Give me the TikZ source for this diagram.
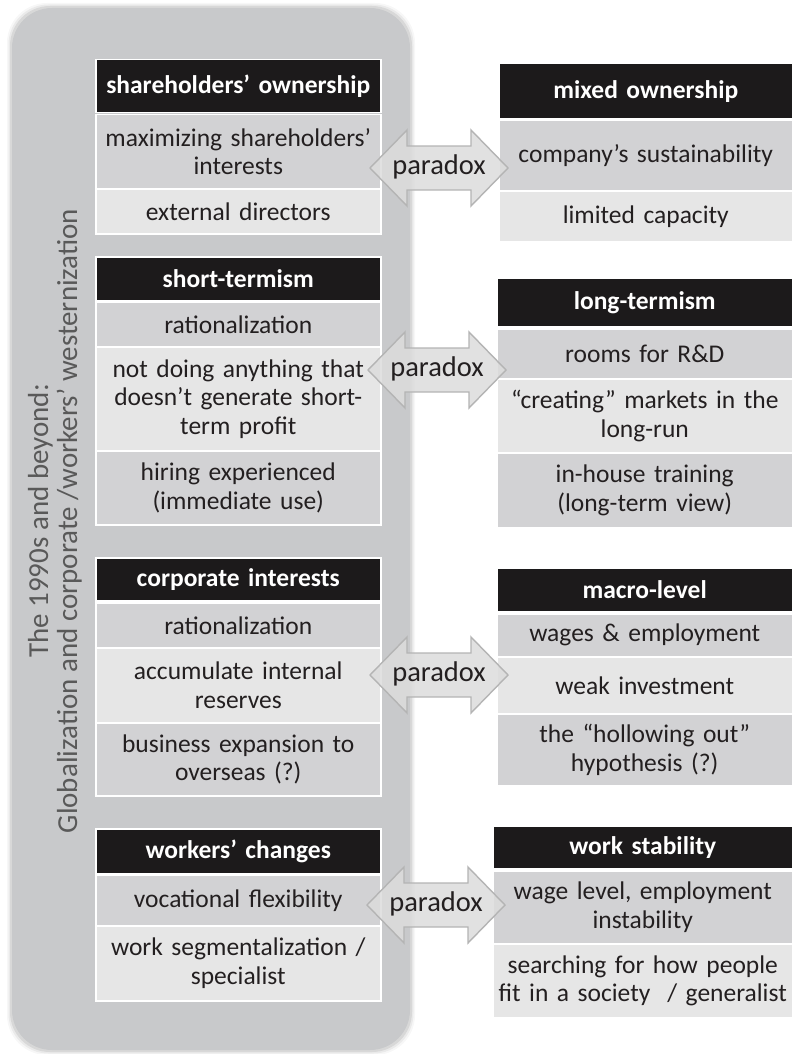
\documentclass[tikz,border=0pt]{standalone}
\usepackage{fontspec}
\setmainfont{Carlito}
\definecolor{panelc}{HTML}{C8C9CB}
\definecolor{darkrow}{HTML}{D2D2D4}
\definecolor{lightrow}{HTML}{E6E6E6}
\definecolor{hdrc}{HTML}{1C1A1B}
\definecolor{txtc}{HTML}{231F20}
\definecolor{arrfill}{HTML}{DCDCDC}
\definecolor{arrdraw}{HTML}{B4B4B4}
\definecolor{vtxt}{HTML}{595959}
\tikzset{
  cell/.style={anchor=north west, inner sep=0pt, align=center, draw=white, line width=1.5pt,
    font=\fontsize{25.5}{28.5}\selectfont, text=txtc},
  hdrcell/.style={cell, fill=hdrc, text=white, font=\fontsize{25.5}{28.5}\selectfont\bfseries},
  dk/.style={cell, fill=darkrow},
  lt/.style={cell, fill=lightrow},
  lw/.style={minimum width=285pt, text width=279pt},
  rw/.style={minimum width=#1pt, text width=#1pt-6pt},
  parrow/.style={fill=arrfill, fill opacity=0.85, draw=arrdraw, line width=1.4pt, line join=miter},
  partext/.style={font=\fontsize{28.5}{30}\selectfont, text=txtc, inner sep=0pt}
}
\newcommand{\paradoxarrow}[3]{%
  \draw[parrow] (#1-69,#2) -- (#1-32,#2-38) -- (#1-32,#2-22) -- (#1+32,#2-22) -- (#1+32,#2-38)
    -- (#1+69,#2) -- (#1+32,#2+38) -- (#1+32,#2+22) -- (#1-32,#2+22) -- (#1-32,#2+38) -- cycle;
  \node[partext] (#3) at (#1,#2-1) {paradox};}
\begin{document}
\begin{tikzpicture}[x=1pt,y=-1pt]
\useasboundingbox (0,0) rectangle (792,1054);
% panel with soft edge
\foreach \e/\o in {5/0.03,3.5/0.05,2/0.08}{
  \fill[black, opacity=\o, rounded corners=40pt] (12-\e,8-\e) rectangle (410+\e,1050+\e);}
\fill[panelc, rounded corners=40pt] (12,8) rectangle (410,1050);
\node[rotate=90, align=center, text=vtxt, font=\fontsize{29}{29}\selectfont] (vt) at (55,521)
  {The 1990s and beyond:\\Globalization and corporate /workers’ westernization};
% ---------- left column ----------
\node[hdrcell, lw, minimum height=53pt] (l1h) at (95,59) {shareholders’ ownership};
\node[dk, lw, minimum height=74pt] (l1a) at (95,114) {maximizing shareholders’\\interests};
\node[lt, lw, minimum height=45pt] (l1b) at (95,188) {external directors};

\node[hdrcell, lw, minimum height=44pt] (l2h) at (95,256) {short-termism};
\node[dk, lw, minimum height=45pt] (l2a) at (95,301) {rationalization};
\node[lt, lw, minimum height=104pt] (l2b) at (95,346) {not doing anything that\\doesn’t generate short-\\term profit};
\node[dk, lw, minimum height=74pt] (l2c) at (95,450) {hiring experienced\\(immediate use)};

\node[hdrcell, lw, minimum height=43pt] (l3h) at (95,557) {corporate interests};
\node[dk, lw, minimum height=45pt] (l3a) at (95,602) {rationalization};
\node[lt, lw, minimum height=75pt] (l3b) at (95,647) {accumulate internal\\reserves};
\node[dk, lw, minimum height=73pt] (l3c) at (95,722) {business expansion to\\overseas (?)};

\node[hdrcell, lw, minimum height=45pt] (l4h) at (95,828) {workers’ changes};
\node[dk, lw, minimum height=51pt] (l4a) at (95,874) {vocational flexibility};
\node[lt, lw, minimum height=75pt] (l4b) at (95,925) {work segmentalization /\\specialist};
% ---------- right column ----------
\node[hdrcell, rw=294, minimum height=55pt] (r1h) at (498,63) {mixed ownership};
\node[dk, rw=294, minimum height=70pt] (r1a) at (498,120) {company’s sustainability};
\node[lt, rw=294, minimum height=51pt] (r1b) at (498,190) {limited capacity};

\node[hdrcell, rw=296, minimum height=49pt] (r2h) at (496,277) {long-termism};
\node[dk, rw=296, minimum height=50pt] (r2a) at (496,328) {rooms for R\&D};
\node[lt, rw=296, minimum height=74pt] (r2b) at (496,378) {“creating” markets in the\\long-run};
\node[dk, rw=296, minimum height=75pt] (r2c) at (496,452) {in-house training\\(long-term view)};

\node[hdrcell, rw=296, minimum height=44pt] (r3h) at (496,567) {macro-level};
\node[dk, rw=296, minimum height=43pt] (r3a) at (496,613) {wages \& employment};
\node[lt, rw=296, minimum height=57pt] (r3b) at (496,656) {weak investment};
\node[dk, rw=296, minimum height=72pt] (r3c) at (496,713) {the “hollowing out”\\hypothesis (?)};

\node[hdrcell, rw=300, minimum height=43pt] (r4h) at (492,825) {work stability};
\node[dk, rw=300, minimum height=73pt] (r4a) at (492,870) {wage level, employment\\instability};
\node[lt, rw=300, minimum height=74pt] (r4b) at (492,943) {searching for how people\\fit in a society~ / generalist};
% ---------- paradox arrows ----------
\paradoxarrow{439}{168}{p1}
\paradoxarrow{437}{370}{p2}
\paradoxarrow{439}{675}{p3}
\paradoxarrow{436}{905}{p4}
\end{tikzpicture}
\end{document}
